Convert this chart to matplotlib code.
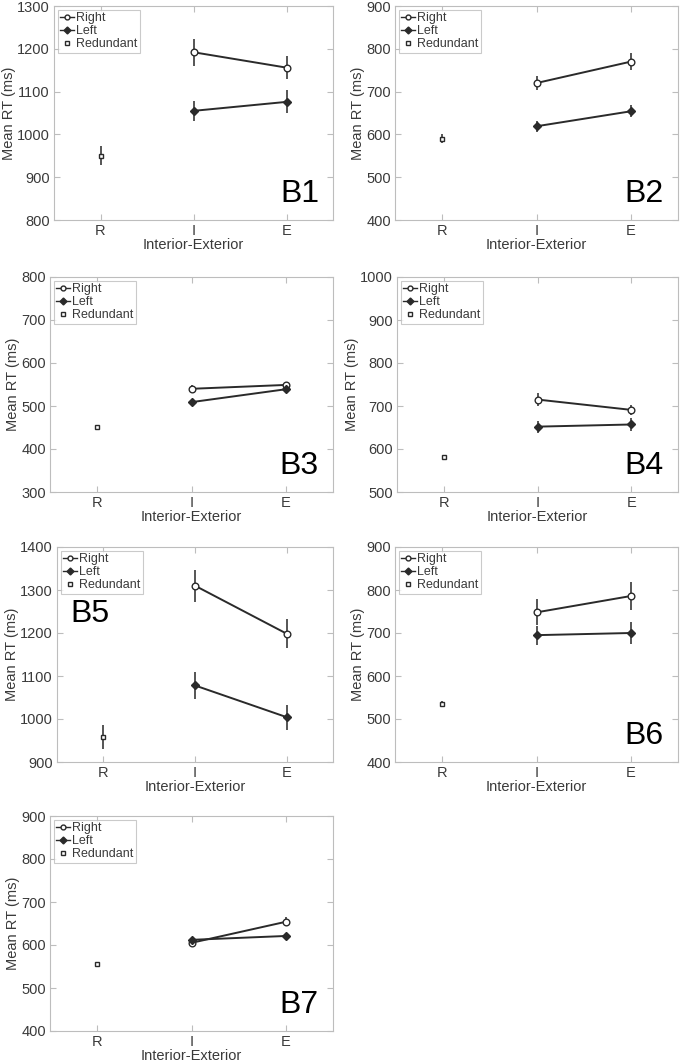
import matplotlib
matplotlib.use("Agg")
import matplotlib.pyplot as plt
from matplotlib.lines import Line2D
import numpy as np

plt.rcParams['font.family'] = ['Liberation Sans', 'DejaVu Sans']

categories = ["R", "I", "E"]
panels = ["B1", "B2", "B3", "B4", "B5", "B6", "B7"]

right_mean = [[1192, 1156], [720, 770], [540, 549], [715, 691], [1310, 1198], [748, 786], [605, 654]]
right_err = [[32, 27], [16, 20], [8, 6], [16, 11], [37, 34], [30, 33], [5, 10]]
left_mean = [[1055, 1076], [619, 654], [509, 539], [652, 657], [1078, 1004], [695, 700], [612, 621]]
left_err = [[24, 27], [13, 14], [7, 6], [14, 16], [31, 29], [22, 25], [5, 5]]
red_mean = [950, 590, 450, 581, 958, 536, 555]
red_err = [22, 11, 6, 6, 27, 6, 4]

ylims = [(800, 1300), (400, 900), (300, 800), (500, 1000), (900, 1400), (400, 900), (400, 900)]

# pixel boxes: left, right, top, bottom
boxes = [(54, 333, 6, 220), (395, 678, 6, 220),
         (50, 333, 277, 492), (397, 678, 277, 492),
         (57, 333, 547, 762), (395, 678, 547, 762),
         (50, 333, 816, 1031)]
label_pos = ["br", "br", "br", "br", "tl", "br", "br"]

W, H = 685, 1064
fig = plt.figure(figsize=(W / 100, H / 100), dpi=100)

txt_c = "#3a3a3a"
spine_c = "#bdbdbd"
line_c = "#2a2a2a"
err_c = "#555555"

for i, name in enumerate(panels):
    l, r, t, b = boxes[i]
    ax = fig.add_axes([l / W, 1 - b / H, (r - l) / W, (b - t) / H])
    x = np.arange(1, 4)
    ax.errorbar([x[0]], [red_mean[i]], yerr=[red_err[i]], fmt='s', ms=3.5, mfc='white',
                mec=line_c, mew=1.0, ecolor=err_c, elinewidth=1.4, capsize=0, zorder=3)
    ax.errorbar(x[1:], right_mean[i], yerr=right_err[i], fmt='-o', ms=4.8, mfc='white',
                mec=line_c, mew=1.0, color=line_c, lw=1.4, ecolor=err_c, elinewidth=1.4,
                capsize=0, zorder=3)
    ax.errorbar(x[1:], left_mean[i], yerr=left_err[i], fmt='-D', ms=4.2, mfc=line_c,
                mec=line_c, color=line_c, lw=1.4, ecolor=err_c, elinewidth=1.4,
                capsize=0, zorder=4)
    ax.set_xlim(0.5, 3.5)
    ax.set_ylim(*ylims[i])
    ax.set_xticks(x)
    ax.set_xticklabels(categories)
    ax.set_yticks(np.arange(ylims[i][0], ylims[i][1] + 1, 100))
    ax.tick_params(direction='in', top=True, right=True, length=4, color=spine_c,
                   labelsize=10.5, labelcolor=txt_c, pad=3)
    for s in ax.spines.values():
        s.set_color(spine_c)
        s.set_linewidth(0.8)
    ax.set_xlabel("Interior-Exterior", fontsize=10.5, color=txt_c, labelpad=0)
    ax.set_ylabel("Mean RT (ms)", fontsize=10.5, color=txt_c, labelpad=1)
    handles = [
        Line2D([], [], color=line_c, lw=1.0, marker='o', ms=3.5, mfc='white', mec=line_c),
        Line2D([], [], color=line_c, lw=1.0, marker='D', ms=3.5, mfc=line_c, mec=line_c),
        Line2D([], [], color=line_c, lw=0, marker='s', ms=3, mfc='white', mec=line_c),
    ]
    leg = ax.legend(handles, ["Right", "Left", "Redundant"], loc='upper left',
                    fontsize=9, frameon=True, fancybox=False, handlelength=1.1,
                    handletextpad=0.15, borderpad=0.2, labelspacing=0.08,
                    borderaxespad=0.3)
    leg.get_frame().set_edgecolor(spine_c)
    leg.get_frame().set_linewidth(0.8)
    for tx in leg.get_texts():
        tx.set_color(txt_c)
    if label_pos[i] == "br":
        ax.text(0.95, 0.05, name, transform=ax.transAxes, ha='right', va='bottom',
                fontsize=23, color='black')
    else:
        ax.text(0.05, 0.62, name, transform=ax.transAxes, ha='left', va='bottom',
                fontsize=23, color='black')

fig.savefig("out.png", dpi=100)
